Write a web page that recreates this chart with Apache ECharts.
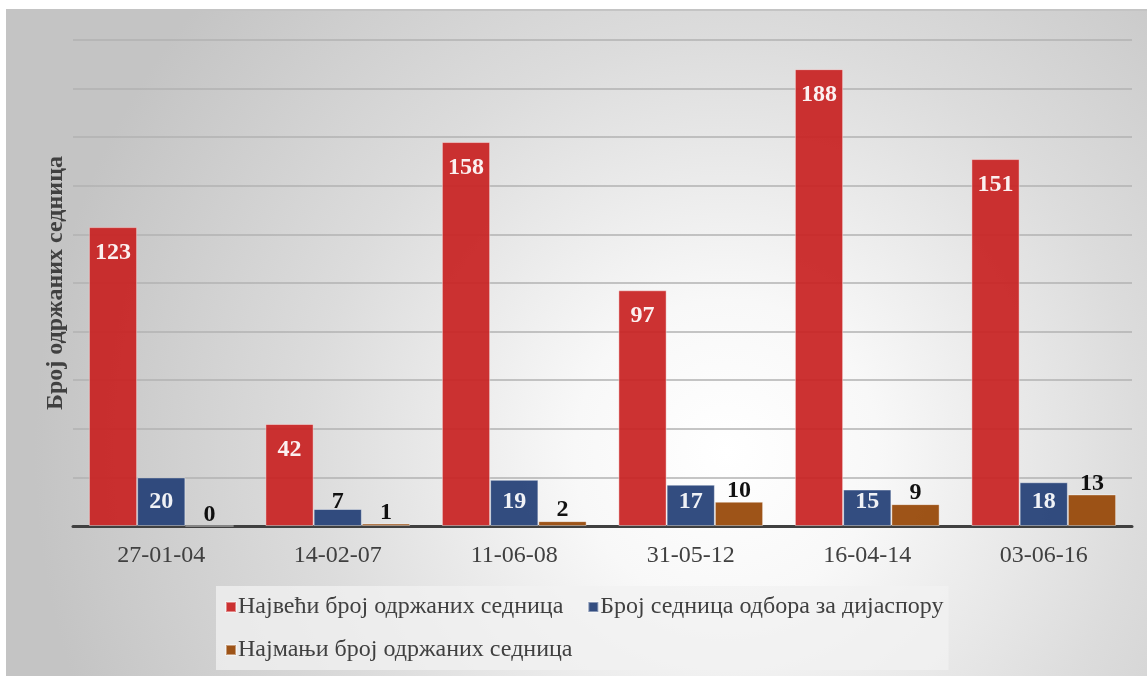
<!DOCTYPE html>
<html>
<head>
<meta charset="utf-8">
<script src="https://cdn.jsdelivr.net/npm/echarts@6/dist/echarts.min.js"></script>
<style>
  html, body { margin: 0; padding: 0; background: #ffffff; }
  #main { width: 1147px; height: 676px; }
</style>
</head>
<body>
<div id="main"></div>
<script>
var categories = ['27-01-04', '14-02-07', '11-06-08', '31-05-12', '16-04-14', '03-06-16'];
var seriesNames = ['Највећи број одржаних седница', 'Број седница одбора за дијаспору', 'Најмањи број одржаних седница'];
var maxSessions = [123, 42, 158, 97, 188, 151];
var diasporaSessions = [20, 7, 19, 17, 15, 18];
var minSessions = [0, 1, 2, 10, 9, 13];

var FONT = "'Liberation Serif', 'Times New Roman', serif";
var colors = ['#c82222', '#233f76', '#974706'];

var redLabel = {
  show: true, position: 'insideTop', distance: 14,
  color: '#ffffff', fontFamily: FONT, fontSize: 24, fontWeight: 'bold'
};
var blueLabel = {
  show: true, position: 'insideBottom', distance: 12,
  color: '#ffffff', fontFamily: FONT, fontSize: 24, fontWeight: 'bold'
};
var topLabel = {
  show: true, position: 'top', distance: -1,
  color: '#000000', fontFamily: FONT, fontSize: 24, fontWeight: 'bold'
};

// the label of a short blue bar sits over it in black
var diasporaData = diasporaSessions.map(function (v) {
  return v < 10 ? { value: v, label: { color: '#000000' } } : v;
});

var barBorder = { borderColor: 'rgba(255,255,255,0.45)', borderWidth: 1, opacity: 0.93 };

var myChart = echarts.init(document.getElementById('main'));
myChart.setOption({
  animation: false,
  color: colors,
  graphic: [{
    type: 'rect',
    z: -10,
    silent: true,
    shape: { x: 7, y: 10, width: 1160, height: 690 },
    style: {
      fill: {
        type: 'radial', x: 0.62, y: 0.64, r: 1.0,
        colorStops: [
          { offset: 0, color: '#ffffff' },
          { offset: 0.22, color: '#f8f8f8' },
          { offset: 0.6, color: '#dcdcdc' },
          { offset: 1, color: '#c4c4c4' }
        ]
      },
      stroke: '#c4c4c4',
      lineWidth: 2
    }
  }],
  grid: { left: 73, right: 15, top: 40, bottom: 150 },
  legend: {
    data: seriesNames,
    left: 216,
    top: 586,
    width: 745,
    padding: [9, 0, 8, 9],
    itemGap: 19,
    itemWidth: 10,
    itemHeight: 10,
    icon: 'rect',
    backgroundColor: 'rgba(242,242,242,0.75)',
    textStyle: { fontFamily: FONT, fontSize: 24, color: '#404040', lineHeight: 21, padding: [0, 5, 0, -3] }
  },
  xAxis: {
    type: 'category',
    data: categories,
    axisLine: { lineStyle: { color: '#404040', width: 3 } },
    axisTick: { show: false },
    axisLabel: { fontFamily: FONT, fontSize: 24, color: '#404040', margin: 18 }
  },
  yAxis: {
    type: 'value',
    min: 0, max: 200, interval: 20,
    name: 'Број одржаних седница',
    nameLocation: 'middle',
    nameGap: 5,
    nameTextStyle: { fontFamily: FONT, fontSize: 24, fontWeight: 'bold', color: '#404040' },
    axisLabel: { show: false },
    axisLine: { show: false },
    axisTick: { show: false },
    splitLine: { lineStyle: { color: '#b2b2b2', width: 1.5 } }
  },
  series: [
    {
      name: seriesNames[0], type: 'bar', data: maxSessions,
      barGap: '0%', barCategoryGap: '18%',
      itemStyle: barBorder, label: redLabel
    },
    {
      name: seriesNames[1], type: 'bar', data: diasporaData,
      barGap: '0%', barCategoryGap: '18%',
      itemStyle: barBorder, label: blueLabel
    },
    {
      name: seriesNames[2], type: 'bar', data: minSessions,
      barGap: '0%', barCategoryGap: '18%',
      itemStyle: barBorder, label: topLabel
    }
  ]
});
</script>
</body>
</html>
